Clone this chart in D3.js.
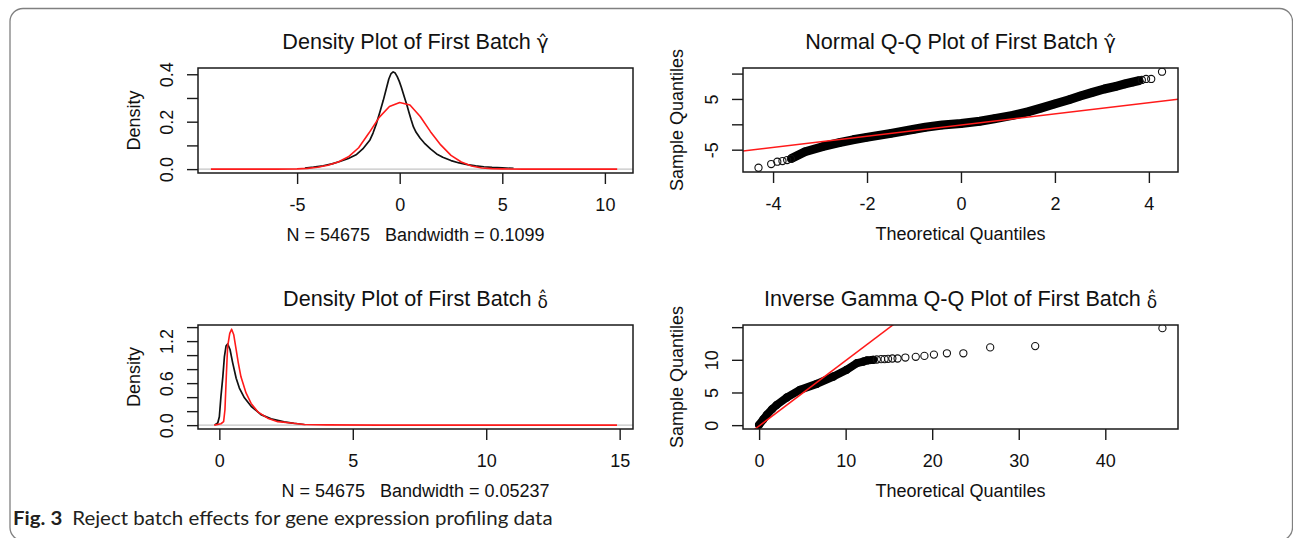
<!DOCTYPE html>
<html><head><meta charset="utf-8">
<script src="https://cdn.jsdelivr.net/npm/d3@7"></script>
<style>
body{margin:0;background:#fff;}
svg{display:block;}
</style>
</head><body>
<svg id="c" width="1293" height="538"></svg>
<script>
// ================= DATA =================
// Panel 1: density of gamma-hat (black) and prior density (red)
const gammaDensityX = [-4.62,-4.2,-3.73,-3.3,-2.92,-2.5,-2.1,-1.8,-1.45,-1.3,-1.13,-0.95,-0.8,-0.65,-0.53,-0.42,-0.32,-0.22,-0.12,-0.02,0.08,0.17,0.26,0.35,0.45,0.55,0.67,0.8,1.0,1.2,1.5,1.8,2.1,2.5,2.9,3.3,3.7,4.1,4.5,5.0,5.55];
const gammaDensityY = [0.004,0.008,0.014,0.022,0.032,0.045,0.062,0.085,0.123,0.152,0.193,0.245,0.29,0.34,0.38,0.403,0.41,0.405,0.39,0.37,0.345,0.32,0.295,0.27,0.24,0.21,0.178,0.155,0.13,0.11,0.085,0.064,0.05,0.036,0.026,0.019,0.014,0.01,0.007,0.005,0.003];
const gammaPriorX = [-9.2,-6,-5,-4.5,-4.0,-3.5,-3.0,-2.5,-2.0,-1.5,-1.0,-0.5,0.0,0.5,1.0,1.5,2.0,2.5,3.0,3.5,4.0,4.5,5.0,6.0,8.0,10.6];
const gammaPriorY = [0,0,0.001,0.003,0.008,0.016,0.03,0.052,0.09,0.152,0.218,0.264,0.281,0.27,0.222,0.158,0.102,0.058,0.03,0.013,0.005,0.002,0.001,0,0,0];

// Panel 2: normal Q-Q of gamma-hat
const gammaQQBandTheo   = [-3.6,-3.32,-2.95,-2.59,-2.3,-2.01,-1.49,-1.0,-0.76,-0.4,0.0,0.4,0.71,1.1,1.44,1.7,1.99,2.3,2.54,2.8,3.05,3.3,3.49,3.65,3.79];
const gammaQQBandSample = [-6.7,-5.4,-4.42,-3.63,-3.05,-2.57,-1.78,-0.98,-0.59,-0.15,0.15,0.6,1.1,1.75,2.49,3.2,4.0,4.85,5.58,6.3,6.96,7.5,7.95,8.3,8.6];
const gammaQQTailTheo   = [-4.31,-4.04,-3.91,-3.80,-3.70,-3.62,3.85,3.94,4.05,4.28];
const gammaQQTailSample = [-8.56,-7.83,-7.37,-7.24,-7.04,-6.8,8.74,8.94,8.94,10.37];
const gammaQQLine = [-0.16, 1.10]; // intercept, slope

// Panel 3: density of delta-hat (black) and prior (red)
const deltaDensityX = [-0.19,-0.06,0.0,0.06,0.13,0.19,0.25,0.31,0.40,0.50,0.63,0.75,0.94,1.19,1.56,1.94,2.43,2.8,3.23];
const deltaDensityY = [0,0.03,0.12,0.41,0.69,0.98,1.13,1.16,1.08,0.89,0.67,0.53,0.39,0.27,0.15,0.09,0.047,0.025,0.006];
const deltaPriorX = [-0.19,0.06,0.16,0.21,0.26,0.31,0.39,0.46,0.54,0.63,0.71,0.81,1.0,1.19,1.44,1.81,2.19,2.69,3.18,4,6,10,14.9];
const deltaPriorY = [0,0.02,0.05,0.22,0.69,1.12,1.31,1.37,1.29,1.08,0.89,0.69,0.46,0.31,0.19,0.10,0.05,0.03,0.01,0.004,0,0,0];

// Panel 4: inverse gamma Q-Q of delta-hat
const deltaQQBandTheo   = [0,0.5,0.89,1.5,2.04,3.2,4.74,6.67,8.59,10.1,11.3,12.06,12.45,13.2];
const deltaQQBandSample = [0.05,0.9,1.58,2.45,3.1,4.23,5.41,6.32,7.45,8.47,9.49,9.74,9.9,10.0];
const deltaQQTailTheo   = [13.6,14.1,14.5,14.9,15.4,16.0,16.9,18.1,19.1,20.2,21.7,23.6,26.7,31.9,46.6];
const deltaQQTailSample = [10.05,10.1,10.1,10.15,10.2,10.2,10.35,10.46,10.6,10.8,11.0,11.0,11.9,12.1,14.85];
const deltaQQLine = [-0.12, 1.0];

// Ticks and labels
const p1XTicks = [-5,0,5,10],           p1XLabels = ["-5","0","5","10"];
const p1YTicks = [0,0.1,0.2,0.3,0.4],   p1YLabels = ["0.0","","0.2","","0.4"];
const p2XTicks = [-4,-2,0,2,4],         p2XLabels = ["-4","-2","0","2","4"];
const p2YTicks = [-5,0,5,10],           p2YLabels = ["-5","","5",""];
const p3XTicks = [0,5,10,15],           p3XLabels = ["0","5","10","15"];
const p3YTicks = [0,0.2,0.4,0.6,0.8,1.0,1.2,1.4], p3YLabels = ["0.0","","","0.6","","","1.2",""];
const p4XTicks = [0,10,20,30,40],       p4XLabels = ["0","10","20","30","40"];
const p4YTicks = [0,5,10,15],           p4YLabels = ["0","5","10",""];

// Texts (greek letters carry a combining circumflex = hat)
const titles = ["Density Plot of First Batch ", "Normal Q-Q Plot of First Batch ", "Density Plot of First Batch ", "Inverse Gamma Q-Q Plot of First Batch "];
const titleGreek = ["\u03b3\u0302","\u03b3\u0302","\u03b4\u0302","\u03b4\u0302"];
const xTitles = ["N = 54675\u00a0\u00a0\u00a0Bandwidth = 0.1099", "Theoretical Quantiles", "N = 54675\u00a0\u00a0\u00a0Bandwidth = 0.05237", "Theoretical Quantiles"];
const yTitles = ["Density", "Sample Quantiles", "Density", "Sample Quantiles"];
const captionLabel = "Fig. 3";
const captionText = "Reject batch effects for gene expression profiling data";

// ================= DRAW =================
const svg = d3.select("#c");
const FONT = "'Liberation Sans', Arial, Helvetica, sans-serif";
const INK = "#1a1a1a";

// outer rounded frame
svg.append("rect").attr("x",10).attr("y",8.5).attr("width",1282.5).attr("height",532)
  .attr("rx",13).attr("fill","none").attr("stroke","#808080").attr("stroke-width",1.3);

const defs = svg.append("defs");

function panel(cfg){
  const g = svg.append("g");
  const x = d3.scaleLinear().domain(cfg.xDom).range([cfg.L, cfg.R]);
  const y = d3.scaleLinear().domain(cfg.yDom).range([cfg.B, cfg.T]);
  defs.append("clipPath").attr("id","clip"+cfg.id).append("rect")
    .attr("x",cfg.L).attr("y",cfg.T).attr("width",cfg.R-cfg.L).attr("height",cfg.B-cfg.T);
  const plot = g.append("g").attr("clip-path",`url(#clip${cfg.id})`);
  cfg.draw(plot, x, y);

  // box
  g.append("rect").attr("x",cfg.L).attr("y",cfg.T).attr("width",cfg.R-cfg.L).attr("height",cfg.B-cfg.T)
    .attr("fill","none").attr("stroke",INK).attr("stroke-width",1.5);

  // x axis
  const xa = g.append("g").attr("transform",`translate(0,${cfg.B})`)
    .call(d3.axisBottom(x).tickValues(cfg.xTicks).tickSize(11).tickPadding(14.5)
      .tickFormat((d,i)=>cfg.xLabels[i]));
  xa.select(".domain").remove();
  xa.attr("font-family",FONT).attr("font-size",18).style("color",INK);
  xa.selectAll(".tick line").attr("stroke-width",1.4);
  xa.selectAll(".tick text").attr("fill","#111");

  // y axis with rotated labels
  const ya = g.append("g").attr("transform",`translate(${cfg.L},0)`)
    .call(d3.axisLeft(y).tickValues(cfg.yTicks).tickSize(11)
      .tickFormat((d,i)=>cfg.yLabels[i]));
  ya.select(".domain").remove();
  ya.attr("font-family",FONT).attr("font-size",18).style("color",INK);
  ya.selectAll(".tick line").attr("stroke-width",1.4);
  ya.selectAll(".tick text").attr("x",null).attr("dy",null)
    .attr("text-anchor","middle").attr("fill","#111")
    .attr("transform","translate(-25,0) rotate(-90)");

  const cx = (cfg.L+cfg.R)/2, cy = (cfg.T+cfg.B)/2;
  // x title
  g.append("text").attr("x",cx).attr("y",cfg.B+68).attr("text-anchor","middle")
    .attr("font-family",FONT).attr("font-size",18).attr("fill","#111").text(cfg.xTitle);
  // y title
  g.append("text").attr("transform",`translate(${cfg.L-cfg.yTitleOff},${cy}) rotate(-90)`)
    .attr("text-anchor","middle").attr("font-family",FONT).attr("font-size",18).attr("fill","#111")
    .text(cfg.yTitle);

  // main title with hatted greek letter
  const tb = cfg.T - 19;
  const t = g.append("text").attr("x",cx).attr("y",tb).attr("text-anchor","middle")
    .attr("font-family",FONT).attr("font-size",21.6).attr("fill","#111");
  t.append("tspan").text(cfg.title);
  t.append("tspan").attr("font-size",cfg.greekSize).attr("dy",cfg.greekDy)
    .attr("font-family","'DejaVu Sans', 'Liberation Sans', sans-serif").text(cfg.greek);
}

const lineGen = (x,y)=>d3.line().x(d=>x(d[0])).y(d=>y(d[1]));
const zip = (a,b)=>a.map((v,i)=>[v,b[i]]);

function densityDraw(blackX,blackY,redX,redY){
  return (p,x,y)=>{
    p.append("path").datum(zip(blackX,blackY)).attr("d",lineGen(x,y))
      .attr("fill","none").attr("stroke","#111").attr("stroke-width",1.7).attr("stroke-linejoin","round");
    p.append("line").attr("x1",x.range()[0]).attr("x2",x.range()[1]).attr("y1",y(0)).attr("y2",y(0))
      .attr("stroke","#c4c4c4").attr("stroke-width",1.4);
    p.append("path").datum(zip(redX,redY)).attr("d",lineGen(x,y))
      .attr("fill","none").attr("stroke","#ff1a1a").attr("stroke-width",1.6).attr("stroke-linejoin","round");
  };
}

function qqDraw(bx,by,tx,ty,ln,bandW){
  return (p,x,y)=>{
    const band = zip(bx,by);
    p.append("path").datum(band).attr("d",lineGen(x,y))
      .attr("fill","none").attr("stroke","#000").attr("stroke-width",bandW)
      .attr("stroke-linejoin","round").attr("stroke-linecap","round");
    p.selectAll("circle.b").data(band).join("circle").attr("class","b")
      .attr("cx",d=>x(d[0])).attr("cy",d=>y(d[1])).attr("r",3.6)
      .attr("fill","none").attr("stroke","#000").attr("stroke-width",1.1);
    p.selectAll("circle.t").data(zip(tx,ty)).join("circle").attr("class","t")
      .attr("cx",d=>x(d[0])).attr("cy",d=>y(d[1])).attr("r",3.6)
      .attr("fill","none").attr("stroke","#111").attr("stroke-width",1.1);
    const [a,b] = ln, [x0,x1] = x.domain();
    p.append("line").attr("x1",x(x0)).attr("y1",y(a+b*x0)).attr("x2",x(x1)).attr("y2",y(a+b*x1))
      .attr("stroke","#ff1a1a").attr("stroke-width",1.5);
  };
}

panel({id:1,L:198,R:633,T:68,B:173,xDom:[-9.83,11.37],yDom:[-0.0164,0.4264],
  xTicks:p1XTicks,xLabels:p1XLabels,yTicks:p1YTicks,yLabels:p1YLabels,
  title:titles[0],greek:titleGreek[0],greekSize:20,greekDy:0,
  xTitle:xTitles[0],yTitle:yTitles[0],yTitleOff:58,
  draw:densityDraw(gammaDensityX,gammaDensityY,gammaPriorX,gammaPriorY)});

panel({id:2,L:743,R:1178,T:68,B:172,xDom:[-4.64,4.62],yDom:[-9.4,11.1],
  xTicks:p2XTicks,xLabels:p2XLabels,yTicks:p2YTicks,yLabels:p2YLabels,
  title:titles[1],greek:titleGreek[1],greekSize:20,greekDy:0,
  xTitle:xTitles[1],yTitle:yTitles[1],yTitleOff:60,
  draw:qqDraw(gammaQQBandTheo,gammaQQBandSample,gammaQQTailTheo,gammaQQTailSample,gammaQQLine,9)});

panel({id:3,L:198,R:633,T:325,B:429,xDom:[-0.8,15.5],yDom:[-0.055,1.43],
  xTicks:p3XTicks,xLabels:p3XLabels,yTicks:p3YTicks,yLabels:p3YLabels,
  title:titles[2],greek:titleGreek[2],greekSize:17,greekDy:1.5,
  xTitle:xTitles[2],yTitle:yTitles[2],yTitleOff:58,
  draw:densityDraw(deltaDensityX,deltaDensityY,deltaPriorX,deltaPriorY)});

panel({id:4,L:743,R:1178,T:325,B:429,xDom:[-1.86,48.4],yDom:[-0.59,15.33],
  xTicks:p4XTicks,xLabels:p4XLabels,yTicks:p4YTicks,yLabels:p4YLabels,
  title:titles[3],greek:titleGreek[3],greekSize:17,greekDy:1.5,
  xTitle:xTitles[3],yTitle:yTitles[3],yTitleOff:60,
  draw:qqDraw(deltaQQBandTheo,deltaQQBandSample,deltaQQTailTheo,deltaQQTailSample,deltaQQLine,8)});

// caption
const cap = svg.append("text").attr("x",13).attr("y",525)
  .attr("font-family","Lato, 'Open Sans', sans-serif").attr("font-size",18.5).attr("fill","#231f20");
cap.append("tspan").attr("font-weight",700).text(captionLabel);
cap.append("tspan").attr("dx",9).text(captionText);
const cw = cap.node().getComputedTextLength();
const sx = 530/cw;
cap.attr("transform",`translate(13,0) scale(${sx},1) translate(-13,0)`);
</script>
</body></html>
